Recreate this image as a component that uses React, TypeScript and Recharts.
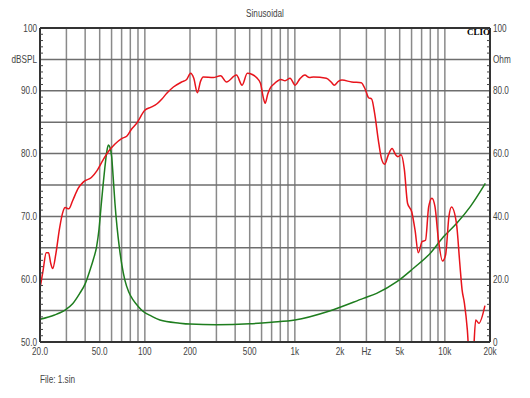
import React from "react";
import { ComposedChart, Line, XAxis, YAxis, CartesianGrid, ReferenceLine } from "recharts";

// SPL response (Hz, dB)
const splFreq = [
  20, 21, 22, 22.8, 23.6, 24.3, 25.5, 27, 28.5, 29.4, 31.1, 33, 36, 39, 44, 48, 52.7, 57, 63, 70, 76, 81, 88,
  100, 110, 120, 130, 140, 155, 176, 190, 202, 212, 224, 235, 245, 286, 320, 350, 408, 445, 482, 520, 555,
  590, 615, 634, 660, 684, 720, 808, 860, 929, 1005, 1080, 1166, 1250, 1330, 1622, 1760, 1829, 1950, 2063,
  2393, 2771, 2950, 3100, 3250, 3400, 3600, 3780, 3970, 4200, 4450, 4700, 4870, 5110, 5370, 5640, 6020,
  6330, 6650, 7060, 7430, 7800, 8200, 8600, 9070, 9650, 10120, 10650, 11070, 11950, 12580, 13030, 13500,
  14130, 14600, 15300, 16060, 16880, 18500,
];
const splDb = [
  58.5, 61.5, 64.2, 64.2, 62.5, 61.7, 64, 68.1, 70.8, 71.4, 71.2, 72.5, 74.5, 75.5, 76.2, 77.3, 79, 80.3,
  81.5, 82.4, 82.8, 83.8, 84.8, 86.9, 87.4, 87.9, 88.7, 89.6, 90.6, 91.4, 91.8, 92.8, 92, 89.7, 91.5, 92.2,
  92.1, 92.4, 91.4, 92.5, 90.9, 92.8, 92.6, 92.1, 91.2, 89, 88, 89.5, 90.4, 91, 91.8, 91.6, 92, 90.9, 91.9,
  92.5, 92.1, 92.2, 92, 91.3, 90.9, 91.5, 91.7, 91.4, 91.3, 90.2, 88.9, 88.7, 86.5, 82.2, 79.2, 78.3, 79.8,
  80.8, 79.8, 79.5, 79.8, 77.5, 72.1, 70.7, 67.8, 64.2, 66, 66.2, 71.5, 72.9, 71.5, 66.2, 62.9, 63.9, 70,
  71.5, 68.9, 62.5, 58.3, 56.2, 51.9, 47, 46.5, 53.5, 53, 55.8,
];

// impedance (Hz, Ohm)
const impFreq = [
  20, 25, 27.2, 30, 33, 36.8, 40, 43.1, 45.5, 47.7, 49.5, 51.3, 52.8, 54.2, 55.7, 57.1, 58.5, 60.1, 61.5,
  63.2, 65.3, 67.5, 70.3, 73.6, 78, 83.5, 90, 97.5, 110, 126, 171, 200, 300, 500, 700, 1000, 1704, 2863,
  3510, 4790, 6180, 7970, 9790, 12000, 14780, 18620,
];
const impOhm = [
  7.2, 8.6, 9.3, 10.5, 12.2, 15.5, 18.5, 22.9, 26.5, 30.4, 36, 44.2, 50.5, 55.8, 60.5, 62.7, 62, 59, 52.5,
  44.2, 36.5, 30.4, 24.5, 19.7, 16, 13.4, 11.4, 9.7, 8.3, 7, 6, 5.7, 5.5, 5.8, 6.3, 7, 9.9, 13.9, 15.5, 19.2,
  23.5, 28.2, 33.5, 37.8, 43.1, 50.5,
];

const freqTicks = [
  20, 30, 40, 50, 60, 70, 80, 90, 100, 200, 300, 400, 500, 600, 700, 800, 900, 1000, 2000, 3000, 4000, 5000,
  6000, 7000, 8000, 9000, 10000, 20000,
];
const freqLabels: Record<number, string> = {
  20: "20.0", 50: "50.0", 100: "100", 200: "200", 500: "500", 1000: "1k", 2000: "2k", 3000: "Hz",
  5000: "5k", 10000: "10k", 20000: "20k",
};
const splTicks = Array.from({ length: 51 }, (_, i) => 50 + i);
const splLabels: Record<number, string> = { 50: "50.0", 60: "60.0", 70: "70.0", 80: "80.0", 90: "90.0", 95: "dBSPL", 100: "100" };
const ohmTicks = Array.from({ length: 51 }, (_, i) => i * 2);
const ohmLabels: Record<number, string> = { 0: "0", 20: "20.0", 40: "40.0", 60: "60.0", 80: "80.0", 90: "Ohm", 100: "100" };
const splGrid = [55, 60, 65, 70, 75, 80, 85, 90, 95];

const splData = splFreq.map((f, i) => ({ f, v: splDb[i] }));
const impData = impFreq.map((f, i) => ({ f, v: impOhm[i] }));

const FONT = "'Liberation Sans', Arial, sans-serif";
const TXT = "#444";
const SQUEEZE = 0.82;

// CLIO screenshots use a narrow sans; squeeze the text horizontally
const Narrow = ({ x, y, anchor, dy, children }: any) => (
  <text
    transform={`translate(${x},${y}) scale(${SQUEEZE},1)`}
    textAnchor={anchor}
    dy={dy}
    fontSize={10}
    fontFamily={FONT}
    fill={TXT}
  >
    {children}
  </text>
);

const SplTick = (props: any) => {
  const { x, y, payload } = props;
  const v = payload.value;
  const label = splLabels[v];
  return (
    <g>
      {v % 5 !== 0 && <line x1={x} x2={x + 3} y1={y} y2={y} stroke="#444" strokeWidth={1} />}
      {label && (
        <Narrow x={x - 3} y={y} anchor="end" dy={3.5}>
          {label}
        </Narrow>
      )}
    </g>
  );
};

const OhmTick = (props: any) => {
  const { x, y, payload } = props;
  const v = payload.value;
  const label = ohmLabels[v];
  return (
    <g>
      {v % 10 !== 0 && <line x1={x - 3} x2={x} y1={y} y2={y} stroke="#444" strokeWidth={1} />}
      {label && (
        <Narrow x={x + 3} y={y} anchor="start" dy={3.5}>
          {label}
        </Narrow>
      )}
    </g>
  );
};

const FreqTick = (props: any) => {
  const { x, y, payload } = props;
  const label = freqLabels[payload.value];
  if (!label) return null;
  return (
    <Narrow x={x} y={y} anchor="middle" dy="0.71em">
      {label}
    </Narrow>
  );
};

const htmlText: React.CSSProperties = {
  position: "absolute",
  fontSize: 10,
  fontFamily: FONT,
  color: TXT,
  whiteSpace: "nowrap",
  transform: `scaleX(${SQUEEZE})`,
};

export default function App() {
  return (
    <div style={{ position: "absolute", left: 0, top: 0, width: 530, height: 398, background: "#fff" }}>
      <div style={{ ...htmlText, left: 0, width: 530, top: 8, textAlign: "center" }}>Sinusoidal</div>
      <ComposedChart width={530} height={398} margin={{ top: 28, right: 0, bottom: 36, left: 0 }}>
        <CartesianGrid yAxisId="spl" horizontal={false} stroke="#8a8a8a" strokeWidth={1.5} />
        <XAxis
          type="number"
          dataKey="f"
          scale="log"
          domain={[20, 20000]}
          ticks={freqTicks}
          allowDataOverflow
          tickSize={0}
          tickMargin={6}
          height={20}
          interval={0}
          stroke="#333"
          strokeWidth={2}
          tick={<FreqTick />}
        />
        <YAxis
          yAxisId="spl"
          orientation="left"
          type="number"
          domain={[50, 100]}
          ticks={splTicks}
          interval={0}
          allowDataOverflow
          width={40}
          tickSize={0}
          tickMargin={0}
          tickLine={false}
          stroke="#333"
          strokeWidth={2}
          tick={<SplTick />}
        />
        <YAxis
          yAxisId="ohm"
          orientation="right"
          type="number"
          domain={[0, 100]}
          ticks={ohmTicks}
          interval={0}
          allowDataOverflow
          width={40}
          tickSize={0}
          tickMargin={0}
          tickLine={false}
          stroke="#333"
          strokeWidth={2}
          tick={<OhmTick />}
        />
        {splGrid.map((g) => (
          <ReferenceLine key={g} yAxisId="spl" y={g} stroke="#6e6e6e" strokeWidth={1.5} />
        ))}
        <ReferenceLine yAxisId="spl" y={100} stroke="#333" strokeWidth={2} />
        <Line
          yAxisId="ohm"
          data={impData}
          dataKey="v"
          type="monotone"
          stroke="#1e7d1e"
          strokeWidth={1.5}
          dot={false}
          isAnimationActive={false}
        />
        <Line
          yAxisId="spl"
          data={splData}
          dataKey="v"
          type="monotone"
          stroke="#e8141c"
          strokeWidth={1.5}
          dot={false}
          isAnimationActive={false}
        />
      </ComposedChart>
      <div style={{ position: "absolute", left: 467, top: 27, fontSize: 9, fontWeight: "bold", fontFamily: "'Liberation Serif', 'Times New Roman', serif", color: "#000" }}>
        CLIO
      </div>
      <div style={{ ...htmlText, left: 40, top: 374, transformOrigin: "left center" }}>File: 1.sin</div>
    </div>
  );
}
